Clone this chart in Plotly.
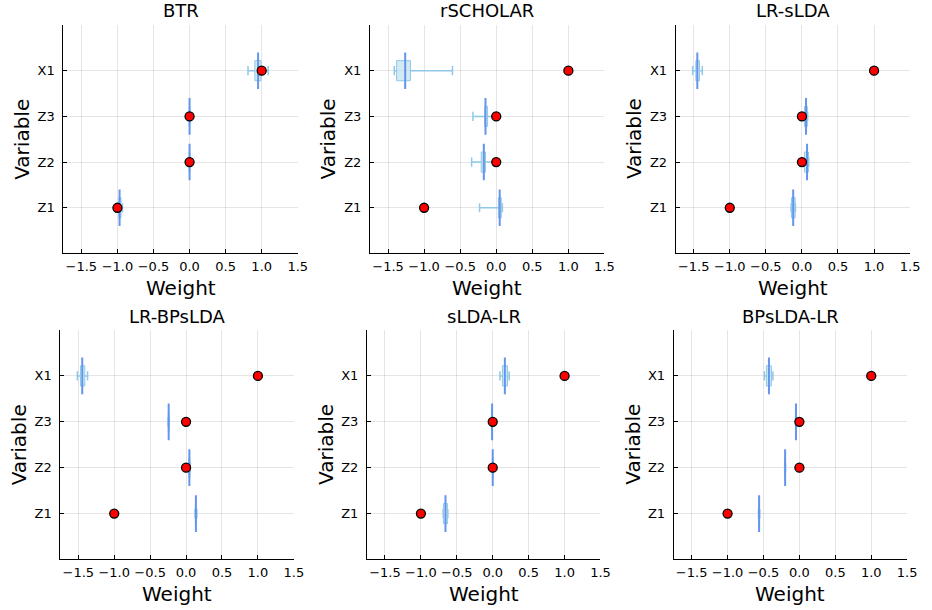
import plotly.graph_objects as go

# ---------------- data ----------------
variables = ["Z1", "Z2", "Z3", "X1"]          # bottom -> top
true_weights = [-1.0, 0.0, 0.0, 1.0]
models = ["BTR", "rSCHOLAR", "LR-sLDA", "LR-BPsLDA", "sLDA-LR", "BPsLDA-LR"]

# per model, per variable (Z1, Z2, Z3, X1): [lower whisker, q1, median, q3, upper whisker]
btr = [[-0.99, -0.98, -0.97, -0.95, -0.93],
       [-0.01, -0.005, 0.0, 0.005, 0.01],
       [-0.01, -0.005, 0.0, 0.005, 0.01],
       [0.81, 0.905, 0.95, 0.99, 1.09]]
rscholar = [[-0.231, 0.03, 0.048, 0.07, 0.085],
            [-0.341, -0.208, -0.172, -0.149, -0.04],
            [-0.323, -0.16, -0.149, -0.12, -0.02],
            [-1.413, -1.381, -1.262, -1.189, -0.607]]
lr_slda = [[-0.15, -0.145, -0.121, -0.094, -0.09],
           [0.03, 0.035, 0.071, 0.09, 0.095],
           [0.03, 0.035, 0.057, 0.075, 0.08],
           [-1.514, -1.47, -1.45, -1.42, -1.381]]
lr_bpslda = [[0.125, 0.13, 0.137, 0.145, 0.15],
             [0.038, 0.04, 0.046, 0.052, 0.055],
             [-0.25, -0.247, -0.242, -0.237, -0.235],
             [-1.513, -1.47, -1.445, -1.41, -1.371]]
slda_lr = [[-0.69, -0.686, -0.658, -0.631, -0.625],
           [-0.008, -0.004, 0.0, 0.004, 0.008],
           [-0.015, -0.012, -0.009, -0.005, -0.002],
           [0.10, 0.135, 0.169, 0.205, 0.229]]
bpslda_lr = [[-0.57, -0.566, -0.561, -0.556, -0.552],
             [-0.205, -0.202, -0.199, -0.196, -0.193],
             [-0.054, -0.051, -0.048, -0.045, -0.042],
             [-0.488, -0.46, -0.424, -0.39, -0.369]]
stats = [btr, rscholar, lr_slda, lr_bpslda, slda_lr, bpslda_lr]

x_ticks = [-1.5, -1.0, -0.5, 0.0, 0.5, 1.0, 1.5]

# ---------------- layout geometry (pixels) ----------------
W, H = 932, 610
panel_x = [(64, 301), (374, 611), (683, 920), (61, 297), (371, 607), (681, 917)]
panel_y = [(25, 253)] * 3 + [(330, 559)] * 3

BOX_H = 0.22
CAP_H = 0.10
MED_H = 0.40

FILL = "rgba(173,216,230,0.55)"
WHISK = "rgb(145,200,232)"
MED = "rgb(100,149,237)"
FONT = "DejaVu Sans"

fig = go.Figure()
annotations = []
layout_axes = {}

for i, (model, st) in enumerate(zip(models, stats)):
    n = i + 1
    xa = "x" if n == 1 else f"x{n}"
    ya = "y" if n == 1 else f"y{n}"
    yv = list(range(1, len(variables) + 1))

    bx, by, wx, wy, mx, my = [], [], [], [], [], []
    for y, (lo, q1, md, q3, hi) in zip(yv, st):
        bx += [q1, q3, q3, q1, q1, None]
        by += [y - BOX_H, y - BOX_H, y + BOX_H, y + BOX_H, y - BOX_H, None]
        wx += [lo, q1, None, q3, hi, None, lo, lo, None, hi, hi, None]
        wy += [y, y, None, y, y, None, y - CAP_H, y + CAP_H, None, y - CAP_H, y + CAP_H, None]
        mx += [md, md, None]
        my += [y - MED_H, y + MED_H, None]

    fig.add_trace(go.Scatter(x=bx, y=by, mode="lines", fill="toself", fillcolor=FILL,
                             line=dict(color=WHISK, width=1), xaxis=xa, yaxis=ya,
                             hoverinfo="skip", showlegend=False))
    fig.add_trace(go.Scatter(x=wx, y=wy, mode="lines", line=dict(color=WHISK, width=1.5),
                             xaxis=xa, yaxis=ya, hoverinfo="skip", showlegend=False))
    fig.add_trace(go.Scatter(x=mx, y=my, mode="lines", line=dict(color=MED, width=2),
                             xaxis=xa, yaxis=ya, hoverinfo="skip", showlegend=False))
    fig.add_trace(go.Scatter(x=true_weights, y=yv, mode="markers",
                             marker=dict(color="red", size=9, line=dict(color="black", width=1.3)),
                             xaxis=xa, yaxis=ya, showlegend=False))

    x0, x1 = panel_x[i]
    y0, y1 = panel_y[i]
    dom_x = [x0 / W, x1 / W]
    dom_y = [1 - y1 / H, 1 - y0 / H]
    common = dict(showline=True, linecolor="black", linewidth=1, mirror=False,
                  ticks="inside", ticklen=4, tickcolor="black", tickwidth=1,
                  showgrid=True, gridcolor="rgba(0,0,0,0.1)", gridwidth=0.6,
                  zeroline=False, tickfont=dict(family=FONT, size=13, color="black"))
    layout_axes["xaxis" if n == 1 else f"xaxis{n}"] = dict(
        domain=dom_x, range=[-1.75, 1.5], tickvals=x_ticks,
        ticktext=[f"{v:.1f}".replace("-", "\u2212") for v in x_ticks],
        anchor=ya, ticklabelstandoff=1, **common)
    layout_axes["yaxis" if n == 1 else f"yaxis{n}"] = dict(
        domain=dom_y, range=[0.01, 5.0], tickvals=yv, ticktext=variables,
        anchor=xa, ticklabelstandoff=5, **common)

    cx = (x0 + x1) / 2 / W
    annotations.append(dict(text=model, x=cx, y=1 - (y0 - 14) / H, xref="paper", yref="paper",
                            showarrow=False, font=dict(family=FONT, size=18, color="black"),
                            xanchor="center", yanchor="middle"))
    annotations.append(dict(text="Weight", x=cx, y=1 - (y1 + 35) / H, xref="paper", yref="paper",
                            showarrow=False, font=dict(family=FONT, size=20, color="black"),
                            xanchor="center", yanchor="middle"))
    annotations.append(dict(text="Variable", x=(x0 - 42) / W, y=1 - (y0 + y1) / 2 / H,
                            xref="paper", yref="paper", textangle=-90,
                            showarrow=False, font=dict(family=FONT, size=20, color="black"),
                            xanchor="center", yanchor="middle"))

fig.update_layout(width=W, height=H, margin=dict(l=0, r=0, t=0, b=0),
                  paper_bgcolor="white", plot_bgcolor="white",
                  annotations=annotations, showlegend=False, **layout_axes)

fig.write_html("out.html", config={"displayModeBar": False},
               post_script="document.body.style.margin='0';document.body.style.overflow='hidden';"
                           "document.documentElement.style.overflow='hidden';")
